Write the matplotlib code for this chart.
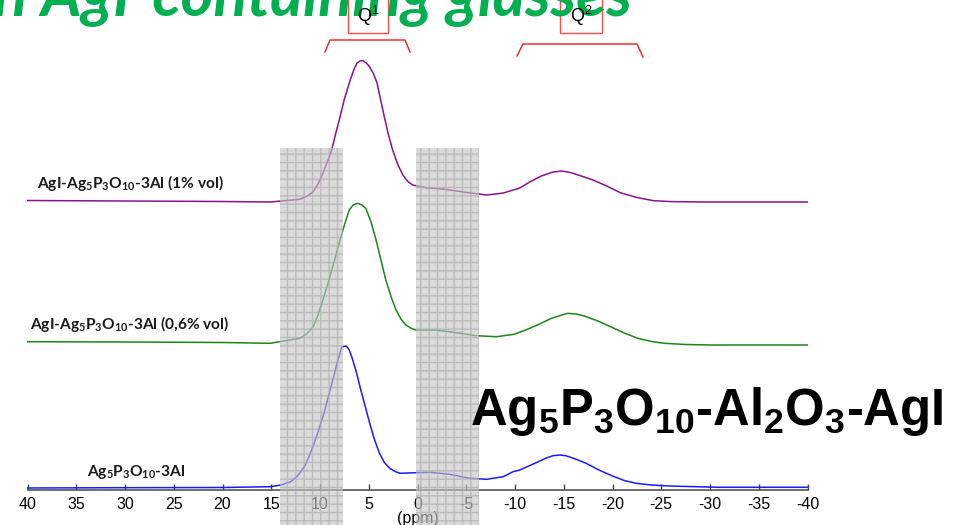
import matplotlib
matplotlib.use("Agg")
import matplotlib.pyplot as plt
from matplotlib.patches import Rectangle
from matplotlib.transforms import Affine2D

plt.rcParams['mathtext.default'] = 'regular'

# 31P NMR spectra (ppm, intensity above own baseline)
ppm_1pct = [40, 30, 20, 15.1, 12.05, 11.3, 10.7, 10.2, 9.7, 9.25, 8.8, 8.4, 7.95, 7.5, 6.9, 6.5,
            6.2, 5.9, 5.6, 5.25, 4.9, 4.5, 4.15, 3.8, 3.4, 3.0, 2.55, 2.0, 1.5, 1.0, 0.5,
            -1.0, -2.6, -4.7, -7.1, -8.8, -10.5, -11.5, -12.7, -13.9, -14.8, -15.6, -16.8,
            -18.0, -19.4, -20.8, -22.5, -24.2, -26.0, -29.3, -40]
int_1pct = [1.5, 1, 0.5, 0, 2.7, 6, 10.3, 18, 29, 40, 52, 68, 85, 103, 122, 133,
            139, 141, 141.3, 139, 135, 128, 119, 103, 85, 68, 52, 37, 27, 20.5, 17,
            14, 13, 10, 7, 9, 14, 20, 26, 30, 31, 29.7, 26,
            22, 16, 9.3, 4.5, 1.3, 0.4, 0, 0]

ppm_06pct = [40, 30, 20, 15.1, 12.05, 11.4, 10.7, 10.2, 9.7, 9.2, 8.7, 8.25, 7.85, 7.4, 7.0,
             6.6, 6.15, 5.7, 5.3, 4.8, 4.25, 3.75, 3.25, 2.7, 2.2, 1.7, 1.2, 0.6, 0.15, -1.9,
             -4.0, -6.0, -8.1, -9.9, -11.1, -12.3, -13.8, -15.4, -16.3, -17.1, -18.5, -19.8,
             -21.2, -22.6, -24.0, -25.3, -27.5, -30.1, -40]
int_06pct = [3.3, 3, 2.5, 1.7, 6.7, 11, 18.3, 30, 45, 61, 78.3, 94, 108.3, 123, 135,
             140, 141.7, 140, 136.7, 124, 105, 85, 65, 48, 35, 26, 20, 16.5, 15, 15,
             12.3, 9.3, 8.3, 10.7, 15, 20, 27, 31.7, 31, 29, 24, 18.3,
             12, 6.7, 3.5, 1.7, 0.5, 0, 0]

ppm_ref = [40, 30, 20, 15.1, 14.0, 13.0, 12.3, 11.6, 11.1, 10.6, 10.1, 9.6, 9.1, 8.6, 8.2,
           7.75, 7.3, 7.0, 6.75, 6.3, 5.9, 5.4, 4.9, 4.4, 3.9, 3.4, 2.85, 2.3, 1.8, 0.1,
           -1.3, -3.3, -5.4, -7.1, -8.8, -9.8, -10.5, -12.4, -13.2, -13.9, -14.6, -15.2,
           -16.2, -17.3, -18.6, -20.0, -21.2, -22.4, -24.0, -25.8, -30.9, -40]
int_ref = [0, 0.3, 0.5, 1.3, 3, 6.3, 12, 21.3, 32, 44.7, 59, 74.7, 93, 111.3, 127,
           141.3, 142, 138, 131.3, 117, 101.3, 83, 64.7, 48, 34.7, 25.5, 19.7, 16.5, 14.7, 15.3,
           15.7, 13.7, 9.7, 8.7, 11.3, 16.3, 18, 26.3, 30, 32.3, 33, 32.3,
           29, 24.7, 18, 12, 7.5, 4.7, 3, 2, 0.7, 0.7]

labels = ['AgI-Ag$_5$P$_3$O$_{10}$-3Al (1% vol)',
          'AgI-Ag$_5$P$_3$O$_{10}$-3Al (0,6% vol)',
          'Ag$_5$P$_3$O$_{10}$-3Al']
offsets = [288, 145, 2]
colors = ['#8b128b', '#1a861a', '#1a1aff']

ticks = list(range(40, -45, -5))
shaded = [(14.1, 7.65), (0.15, -6.3)]

W, H = 970, 525
fig = plt.figure(figsize=(W / 100, H / 100), dpi=100)
px = Affine2D().scale(1 / W, -1 / H).translate(0, 1) + fig.transFigure

ax = fig.add_axes([27.5 / W, 35 / H, 780 / W, 490 / H])
ax.set_xlim(40, -40)
ax.set_ylim(0, 490)
for s in ['top', 'left', 'right']:
    ax.spines[s].set_visible(False)
ax.spines['bottom'].set_color('#555555')
ax.spines['bottom'].set_linewidth(1.2)
ax.set_yticks([])
ax.set_xticks(ticks)
ax.set_xticklabels([str(t) for t in ticks], fontsize=11.5, family='Liberation Sans')
ax.tick_params(axis='x', direction='in', length=4, width=1, color='#444444', pad=5)
ax.set_xlabel('(ppm)', fontsize=11.5, family='Liberation Sans', labelpad=-1)

series = [(ppm_1pct, int_1pct), (ppm_06pct, int_06pct), (ppm_ref, int_ref)]
for (x, y), off, c in zip(series, offsets, colors):
    ax.plot(x, [v + off for v in y], color=c, lw=1.1, zorder=2)

plt.rcParams['hatch.color'] = '#a9a9a9'
plt.rcParams['hatch.linewidth'] = 1.0
for x0, x1 in shaded:
    ax.add_patch(Rectangle((x0, -40), x1 - x0, 382, facecolor='#c4c4c4', alpha=0.62,
                           edgecolor='#a9a9a9', lw=0, hatch='++', zorder=5, clip_on=False))

# trace labels
lab_pos = [(37, 183), (30, 324), (87, 472)]
for (lx, ly), t in zip(lab_pos, labels):
    fig.text(lx, ly, t, transform=px, ha='left', va='center', fontsize=11.2,
             family='Lato', weight='bold', color='#1a1a1a')

fig.text(470, 425, 'Ag$_5$P$_3$O$_{10}$-Al$_2$O$_3$-AgI', transform=px, ha='left',
         va='baseline', fontsize=36.5, family='Liberation Sans', weight='bold', color='black')

# slide title (cut off at top)
fig.text(632, 16, 'in AgI-containing glasses', transform=px, ha='right', va='baseline',
         fontsize=45, family='Lato', weight='bold', style='italic', color='#00b050')

# Q1 / Q2 boxes and brackets
for bx0, bx1, lab in [(348, 388, 'Q$^1$'), (560, 602, 'Q$^2$')]:
    fig.add_artist(Rectangle((bx0, -5), bx1 - bx0, 38, transform=px, facecolor='white',
                             edgecolor='#ff4a4a', lw=1))
    fig.text((bx0 + bx1) / 2, 16, lab, transform=px, ha='center', va='center',
             fontsize=13, family='Liberation Sans', color='black')
brackets = [([325, 330, 405, 410], [52, 40, 40, 52]),
            ([517, 523, 637, 643], [56, 44, 44, 57])]
for bx, by in brackets:
    fig.add_artist(plt.Line2D(bx, by, transform=px, color='#ee1c1c', lw=1))

fig.savefig('out.png', dpi=100)
